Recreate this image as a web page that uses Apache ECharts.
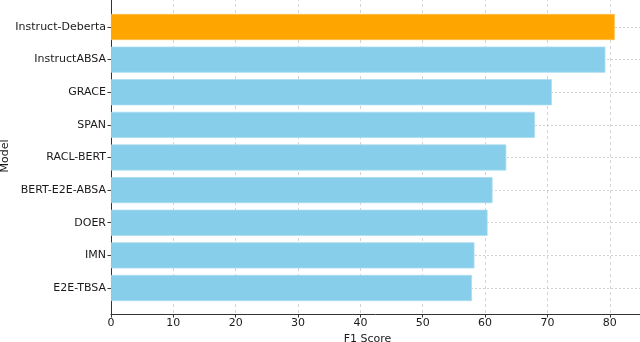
<!DOCTYPE html>
<html><head><meta charset="utf-8">
<script src="https://cdn.jsdelivr.net/npm/echarts@6/dist/echarts.min.js"></script>
<style>html,body{margin:0;padding:0;background:#fff}#c{width:640px;height:342px}</style>
</head><body><div id="c"></div>
<script>
const models = ['Instruct-Deberta','InstructABSA','GRACE','SPAN','RACL-BERT','BERT-E2E-ABSA','DOER','IMN','E2E-TBSA'];
const f1Scores = [80.8, 79.3, 70.7, 68.0, 63.4, 61.2, 60.4, 58.3, 57.9];
const highlightModel = 'Instruct-Deberta';
const xTicks = [0,10,20,30,40,50,60,70,80];

const font = 'DejaVu Sans';
const chart = echarts.init(document.getElementById('c'), null, {renderer:'canvas'});
chart.setOption({
  animation:false,
  textStyle:{fontFamily:font},
  grid:[
    {left:111, right:0, top:10.7, bottom:37.7, containLabel:false, outerBoundsMode:'none'},
    {left:111, right:0, top:-2, bottom:28, containLabel:false, outerBoundsMode:'none'}
  ],
  xAxis:[
    {gridIndex:0, type:'value', min:0, max:84.85, show:false},
    {gridIndex:1, type:'value', min:0, max:84.85, interval:10,
     axisLine:{show:true, lineStyle:{color:'#333', width:1}},
     axisTick:{show:true, length:3.5, lineStyle:{color:'#333'}},
     axisLabel:{color:'#1a1a1a', fontSize:11, fontFamily:font, margin:4,
       formatter:v=> xTicks.indexOf(v)>=0 ? String(v) : ''},
     splitLine:{show:true, lineStyle:{color:'#c8c8c8', type:[3,3], width:0.8}},
     name:'F1 Score', nameLocation:'middle', nameGap:19,
     nameTextStyle:{color:'#1a1a1a', fontSize:11, fontFamily:font, padding:[0,16,0,0]}}
  ],
  yAxis:[
    {gridIndex:0, type:'category', data:models, inverse:true,
     axisLine:{show:false},
     axisTick:{show:true, alignWithLabel:true, length:3.5, lineStyle:{color:'#333'}},
     axisLabel:{color:'#1a1a1a', fontSize:11, fontFamily:font, margin:5},
     splitLine:{show:true, alignWithLabel:true, lineStyle:{color:'#c8c8c8', type:[2,2], width:0.8}}},
    {gridIndex:1, type:'value', min:0, max:1,
     axisLine:{show:true, onZero:false, lineStyle:{color:'#333', width:1}},
     axisTick:{show:false}, axisLabel:{show:false}, splitLine:{show:false},
     name:'Model', nameLocation:'middle', nameGap:100, nameRotate:90,
     nameTextStyle:{color:'#1a1a1a', fontSize:11, fontFamily:font}}
  ],
  series:[{
    type:'bar', xAxisIndex:0, yAxisIndex:0, barWidth:'80%', z:3,
    data: models.map((m,i)=>({value:f1Scores[i],
      itemStyle:{color: m===highlightModel ? '#FFA500' : '#87CEEB',
                 borderColor: m===highlightModel ? '#FFC04D' : '#A8DCF0', borderWidth:0.8}}))
  }]
});
</script></body></html>
